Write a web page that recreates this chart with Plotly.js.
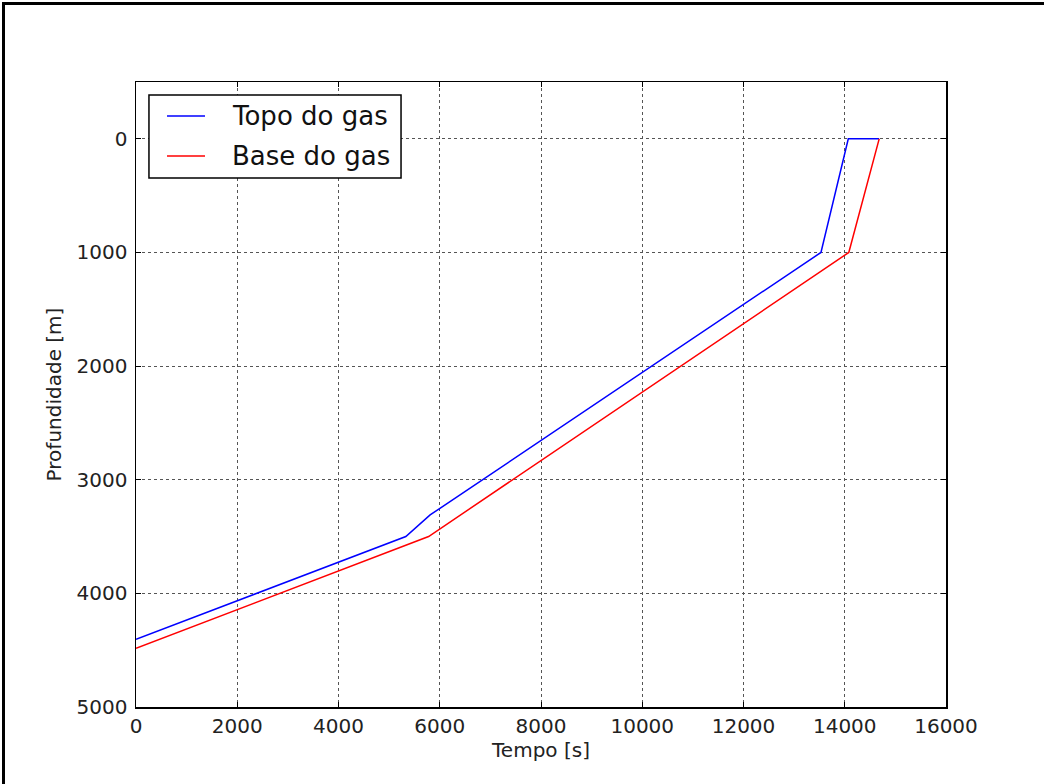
<!DOCTYPE html>
<html><head><meta charset="utf-8">
<script src="https://cdn.plot.ly/plotly-3.0.1.min.js"></script>
<style>
body{margin:0;background:#fff;}
#frame{position:absolute;left:2px;top:2px;width:1200px;height:1000px;border:3px solid #000;pointer-events:none;}
#chart{position:absolute;left:0;top:0;width:1044px;height:784px;}
</style></head>
<body>
<div id="chart"></div>
<div id="frame"></div>
<script>
const topoTempo = [0, 5330, 5810, 13530, 14070, 14680];
const topoProf  = [4404, 3500, 3310, 1000, 0, 0];
const baseTempo = [0, 5780, 14080, 14680];
const baseProf  = [4483, 3500, 1000, 0];
const seriesNames = ['Topo do gas', 'Base do gas'];
const seriesColors = ['#0000ff', '#ff0000'];
const xTicks = [0,2000,4000,6000,8000,10000,12000,14000,16000];
const yTicks = [0,1000,2000,3000,4000,5000];

const fam = 'DejaVu Sans, sans-serif';
const traces = [
 {x:topoTempo, y:topoProf, mode:'lines', name:seriesNames[0], line:{color:seriesColors[0], width:1.5}},
 {x:baseTempo, y:baseProf, mode:'lines', name:seriesNames[1], line:{color:seriesColors[1], width:1.5}}
];
const axisCommon = {
  showline:true, linecolor:'#000', linewidth:1.5, mirror:'allticks',
  ticks:'inside', ticklen:5, tickcolor:'#000', tickwidth:1,
  showgrid:true, gridcolor:'#555', griddash:'dot', gridwidth:1,
  zeroline:false, tickfont:{family:fam, size:20, color:'#222'}
};
// legend drawn as a box in paper coordinates (matplotlib-style legend)
const legBox = {x0:0.0160, x1:0.3272, y0:0.8464, y1:0.9792};
const legRows = [0.9456, 0.8816];
const shapes = [{type:'rect', xref:'paper', yref:'paper', x0:legBox.x0, x1:legBox.x1, y0:legBox.y0, y1:legBox.y1,
  line:{color:'#000', width:1.5}, fillcolor:'#fff', layer:'above'}];
const annotations = [];
seriesNames.forEach((n,i)=>{
  shapes.push({type:'line', xref:'paper', yref:'paper', x0:0.0383, x1:0.0852, y0:legRows[i], y1:legRows[i],
    line:{color:seriesColors[i], width:1.5}, layer:'above'});
  annotations.push({xref:'paper', yref:'paper', x:0.1160, y:legRows[i], xanchor:'left', yanchor:'middle',
    text:n, showarrow:false, font:{family:fam, size:26, color:'#111'}});
});
const layout = {
  width:1044, height:784,
  margin:{l:136, r:98, t:82, b:77},
  paper_bgcolor:'rgba(0,0,0,0)', plot_bgcolor:'#fff',
  showlegend:false,
  shapes:shapes, annotations:annotations,
  xaxis:Object.assign({}, axisCommon, {range:[0,16000], tickvals:xTicks, ticktext:xTicks.map(String),
    title:{text:'Tempo [s]', font:{family:fam, size:20, color:'#222'}, standoff:2}}),
  yaxis:Object.assign({}, axisCommon, {range:[5000,-500], tickvals:yTicks, ticktext:yTicks.map(String),
    ticklabelstandoff:3,
    title:{text:'Profundidade [m]', font:{family:fam, size:20, color:'#222'}, standoff:9}})
};
Plotly.newPlot('chart', traces, layout, {staticPlot:true});
</script>
</body></html>
